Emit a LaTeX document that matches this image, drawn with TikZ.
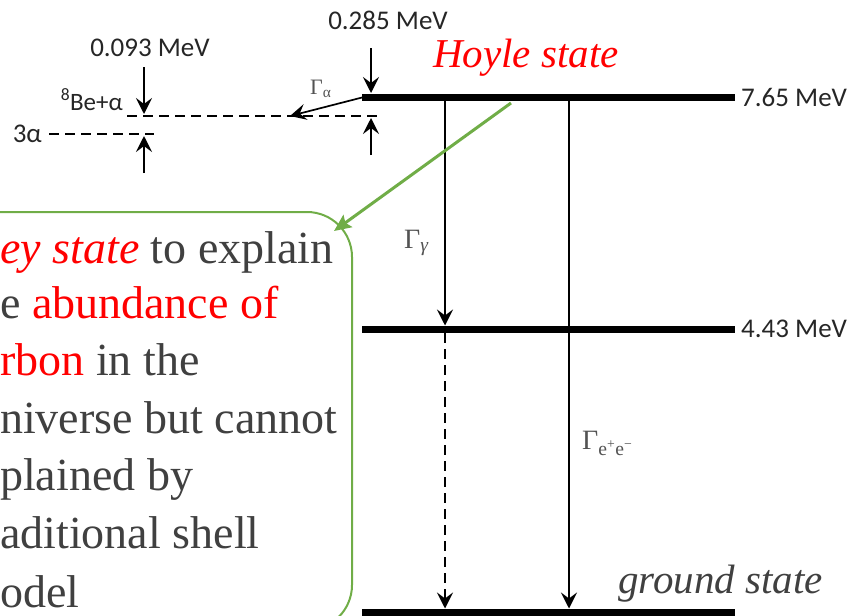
\documentclass[tikz,border=0pt]{standalone}
\usepackage{fontspec}
\setmainfont{Liberation Serif}
\newfontfamily\calfont{Carlito}
\usetikzlibrary{arrows.meta,positioning}
\definecolor{offgreen}{RGB}{112,173,71}
\definecolor{txtgray}{RGB}{64,64,64}

\begin{document}
\begin{tikzpicture}[x=1pt,y=-1pt,lvl/.style={line width=7pt},tr/.style={-{Stealth[length=16pt,width=16pt,inset=6pt]},line width=2pt},gap/.style={dash pattern=on 10pt off 6pt,line width=2.3pt},mev/.style={font=\calfont\fontsize{27}{32}\selectfont,text=black!85,inner sep=0pt},big/.style={font=\fontsize{46}{55}\selectfont,text=txtgray,inner sep=0pt,anchor=base west},st/.style={font=\itshape\fontsize{41}{49}\selectfont,inner sep=0pt,anchor=base west},gam/.style={text=txtgray!90,inner sep=0pt,anchor=base west}]

\useasboundingbox (0,0) rectangle (852,616);
\clip (0,0) rectangle (852,616);
\coordinate (h0) at (362,97);\coordinate (h1) at (735,97);
\coordinate (c0) at (362,329);\coordinate (c1) at (735,329);
\coordinate (g0) at (362,612);\coordinate (g1) at (735,612);
\draw[lvl](h0)--(h1);\draw[lvl](c0)--(c1);\draw[lvl](g0)--(g1);
\node[mev,anchor=west] (e765) at (741,97) {7.65 MeV};
\node[mev,anchor=west] (e443) at (741,329) {4.43 MeV};
\node[st,text=red] (hoyle) at (433,67) {Hoyle state};
\node[st,text=txtgray] (gs) at (618,593) {ground state};

\coordinate (gam0) at (445,97);\coordinate (gam1) at (445,325.5);
\coordinate (cg0) at (445,333);\coordinate (cg1) at (445,608.5);
\coordinate (pair0) at (569,97);\coordinate (pair1) at (569,608.5);
\draw[tr](gam0)--(gam1);\draw[tr,gap](cg0)--(cg1);\draw[tr](pair0)--(pair1);
\node[gam,font=\fontsize{28}{32}\selectfont] (lgam) at (404,248) {Γ\textsubscript{\itshape γ}};
\node[gam,font=\fontsize{28}{32}\selectfont] (lpair) at (582,449) {Γ\textsubscript{e\textsuperscript{+}e\textsuperscript{−}}};

\coordinate (be0) at (127,116);\coordinate (be1) at (380,116);
\coordinate (al0) at (49,134);\coordinate (al1) at (154,134);
\draw[gap](be0)--(be1);\draw[gap](al0)--(al1);
\node[mev,anchor=east] (three) at (42,134) {3α};
\node[mev,anchor=base east,font=\calfont\fontsize{25}{28}\selectfont] (bea) at (123,110) {\textsuperscript{8}Be+α};
\node[mev] (w093) at (150,48) {0.093 MeV};
\node[mev] (w285) at (388,20) {0.285 MeV};
\coordinate (a0) at (144,67);\coordinate (a1) at (144,114);
\coordinate (a2) at (144,173);\coordinate (a3) at (144,136);
\coordinate (b0) at (371,48);\coordinate (b1) at (371,93);
\coordinate (b2) at (371,155);\coordinate (b3) at (371,118);
\draw[tr](a0)--(a1);\draw[tr](a2)--(a3);\draw[tr](b0)--(b1);\draw[tr](b2)--(b3);
\coordinate (alf0) at (364,97);\coordinate (alf1) at (290,116);
\draw[tr,line width=1.7pt](alf0)--(alf1);
\node[gam,font=\fontsize{22}{26}\selectfont] (lalf) at (310,94) {Γ\textsubscript{α}};

\node[draw=offgreen,line width=2pt,rounded corners=45pt,minimum width=500,minimum height=418] (note) at (102,421) {};
\coordinate (hpt) at (511,103);\coordinate (npt) at (334,231);
\draw[-{Stealth[length=17pt,width=15pt,inset=3pt]},line width=3pt,draw=offgreen,fill=offgreen](hpt)--(npt);

\node[big] (l1) at (0,263) {{\color{red}\itshape ey state} to explain};
\node[big] (l2) at (0,318) {e {\color{red}abundance of}};
\node[big] (l3) at (0,375) {{\color{red}rbon} in the};
\node[big] (l4) at (0,433) {niverse but cannot};
\node[big] (l5) at (0,490) {plained by};
\node[big] (l6) at (0,548) {aditional shell};
\node[big] (l7) at (0,607) {odel};
\end{tikzpicture}
\end{document}
